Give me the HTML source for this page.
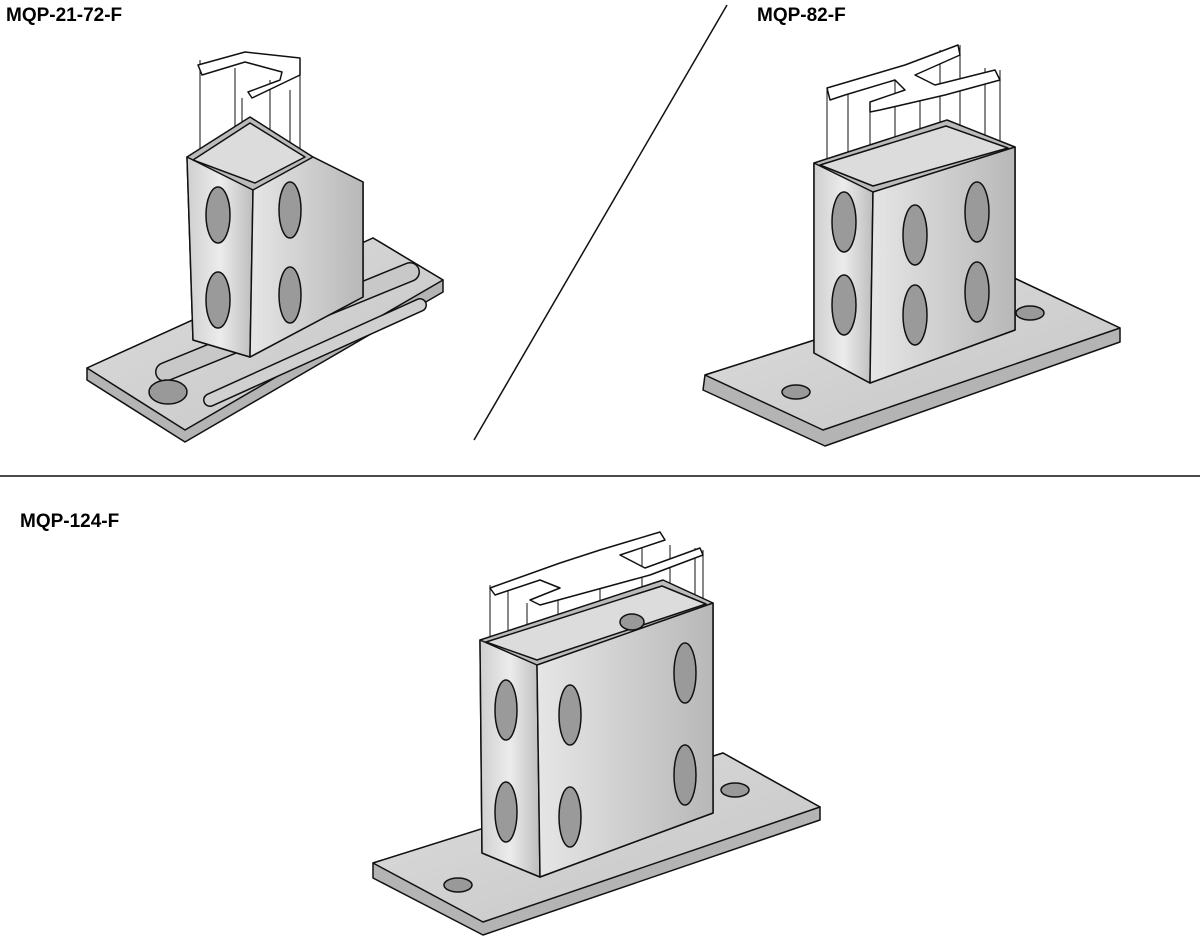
<!DOCTYPE html>
<html><head><style>
body{margin:0;background:#fff;width:1200px;height:936px;overflow:hidden;position:relative;font-family:"Liberation Sans",sans-serif}
.l{position:absolute;font-weight:bold;font-size:19px;color:#000}
</style></head><body>
<div class="l" style="left:6px;top:5px">MQP-21-72-F</div>
<div class="l" style="left:757px;top:5px">MQP-82-F</div>
<div class="l" style="left:20px;top:511px">MQP-124-F</div>
<svg width="1200" height="936" style="position:absolute;left:0;top:0">
<defs>
<linearGradient id="pl" x1="0" y1="0" x2="1" y2="1"><stop offset="0" stop-color="#dedede"/><stop offset="1" stop-color="#c4c4c4"/></linearGradient>
<linearGradient id="fa" x1="0" y1="0" x2="1" y2="0"><stop offset="0" stop-color="#cfcfcf"/><stop offset="0.5" stop-color="#ececec"/><stop offset="1" stop-color="#bdbdbd"/></linearGradient>
<linearGradient id="fb" x1="0" y1="0" x2="1" y2="0"><stop offset="0" stop-color="#e6e6e6"/><stop offset="1" stop-color="#b8b8b8"/></linearGradient>
</defs>
<g stroke="#111" stroke-width="1.5" stroke-linejoin="round">
<line x1="727" y1="5" x2="474" y2="440"/>
<line x1="0" y1="476" x2="1200" y2="476"/>

<!-- Part 1 -->
<polygon points="87,368 373,238 443,280 443,292 185,442 87,380" fill="#b4b4b4"/>
<polygon points="87,368 373,238 443,280 185,430" fill="url(#pl)"/>
<path d="M165,372 L410,272" fill="none" stroke="#111" stroke-width="20" stroke-linecap="round"/>
<path d="M165,372 L410,272" fill="none" stroke="#c8c8c8" stroke-width="17" stroke-linecap="round"/>
<path d="M210,400 L420,305" fill="none" stroke="#111" stroke-width="14" stroke-linecap="round"/>
<path d="M210,400 L420,305" fill="none" stroke="#d0d0d0" stroke-width="11" stroke-linecap="round"/>
<ellipse cx="168" cy="392" rx="19" ry="12" fill="#999"/>
<g fill="none" stroke-width="1"><line x1="200" y1="60" x2="200" y2="150"/><line x1="235" y1="68" x2="235" y2="150"/><line x1="242" y1="98" x2="242" y2="150"/><line x1="270" y1="80" x2="270" y2="150"/><line x1="300" y1="58" x2="300" y2="150"/><line x1="290" y1="90" x2="290" y2="150"/></g>
<path d="M198,65 L245,52 L300,58 L300,75 L252,98 L248,92 L280,80 L282,72 L245,62 L202,75 Z" fill="#fff"/>
<polygon points="187,157 250,117 313,157 363,182 363,297 250,357 193,340" fill="#bbb"/>
<polygon points="187,157 253,190 250,357 193,340" fill="url(#fa)"/>
<polygon points="253,190 313,157 363,182 363,297 250,357" fill="url(#fb)"/>
<polygon points="193,160 250,123 305,157 255,183" fill="#dcdcdc"/>
<g fill="#9a9a9a"><ellipse cx="218" cy="215" rx="12" ry="28"/><ellipse cx="218" cy="300" rx="12" ry="28"/><ellipse cx="290" cy="210" rx="11" ry="28"/><ellipse cx="290" cy="295" rx="11" ry="28"/></g>

<!-- Part 2 -->
<polygon points="705,375 1012,277 1120,328 1120,342 825,446 703,390" fill="#b4b4b4"/>
<polygon points="705,375 1012,277 1120,328 823,430" fill="url(#pl)"/>
<ellipse cx="796" cy="392" rx="14" ry="7" fill="#999"/>
<ellipse cx="1030" cy="313" rx="14" ry="7" fill="#999"/>
<g fill="none" stroke-width="1"><line x1="827" y1="88" x2="827" y2="163"/><line x1="848" y1="85" x2="848" y2="165"/><line x1="870" y1="106" x2="870" y2="190"/><line x1="895" y1="70" x2="895" y2="185"/><line x1="920" y1="100" x2="920" y2="185"/><line x1="940" y1="50" x2="940" y2="175"/><line x1="960" y1="45" x2="960" y2="150"/><line x1="985" y1="68" x2="985" y2="150"/><line x1="1000" y1="70" x2="1000" y2="150"/></g>
<path d="M827,88 L905,65 L958,45 L960,55 L915,75 L935,85 L995,70 L1000,80 L945,95 L880,110 L870,112 L870,102 L905,90 L895,80 L845,95 L830,100 Z" fill="#fff"/>
<polygon points="814,163 947,120 1015,147 1015,330 870,383 814,353" fill="#bbb"/>
<polygon points="814,163 873,192 870,383 814,353" fill="url(#fa)"/>
<polygon points="873,192 1015,147 1015,330 870,383" fill="url(#fb)"/>
<polygon points="820,165 946,126 1008,148 873,186" fill="#dcdcdc"/>
<g fill="#9a9a9a"><ellipse cx="844" cy="222" rx="12" ry="30"/><ellipse cx="844" cy="305" rx="12" ry="30"/><ellipse cx="915" cy="235" rx="12" ry="30"/><ellipse cx="915" cy="315" rx="12" ry="30"/><ellipse cx="977" cy="212" rx="12" ry="30"/><ellipse cx="977" cy="292" rx="12" ry="30"/></g>

<!-- Part 3 -->
<polygon points="373,863 723,753 820,807 820,820 483,935 373,878" fill="#b4b4b4"/>
<polygon points="373,863 723,753 820,807 483,922" fill="url(#pl)"/>
<ellipse cx="458" cy="885" rx="14" ry="7" fill="#999"/>
<ellipse cx="735" cy="790" rx="14" ry="7" fill="#999"/>
<g fill="none" stroke-width="1"><line x1="490" y1="585" x2="490" y2="640"/><line x1="508" y1="583" x2="508" y2="640"/><line x1="527" y1="603" x2="527" y2="660"/><line x1="558" y1="565" x2="558" y2="650"/><line x1="600" y1="555" x2="600" y2="630"/><line x1="610" y1="597" x2="610" y2="640"/><line x1="642" y1="547" x2="642" y2="620"/><line x1="670" y1="545" x2="670" y2="600"/><line x1="695" y1="548" x2="695" y2="595"/><line x1="703" y1="550" x2="703" y2="600"/></g>
<path d="M490,588 L560,563 L600,550 L660,532 L665,540 L620,555 L645,568 L700,548 L703,555 L650,575 L540,605 L530,600 L560,588 L540,580 L495,595 Z" fill="#fff"/>
<polygon points="480,640 663,580 713,603 713,813 540,877 482,853" fill="#bbb"/>
<polygon points="480,640 537,665 540,877 482,853" fill="url(#fa)"/>
<polygon points="537,665 713,603 713,813 540,877" fill="url(#fb)"/>
<polygon points="486,642 662,586 706,604 537,660" fill="#dcdcdc"/>
<ellipse cx="632" cy="622" rx="12" ry="8" fill="#999"/>
<g fill="#9a9a9a"><ellipse cx="506" cy="710" rx="11" ry="30"/><ellipse cx="506" cy="812" rx="11" ry="30"/><ellipse cx="570" cy="715" rx="11" ry="30"/><ellipse cx="570" cy="817" rx="11" ry="30"/><ellipse cx="685" cy="673" rx="11" ry="30"/><ellipse cx="685" cy="775" rx="11" ry="30"/></g>
</g>
</svg>
</body></html>
